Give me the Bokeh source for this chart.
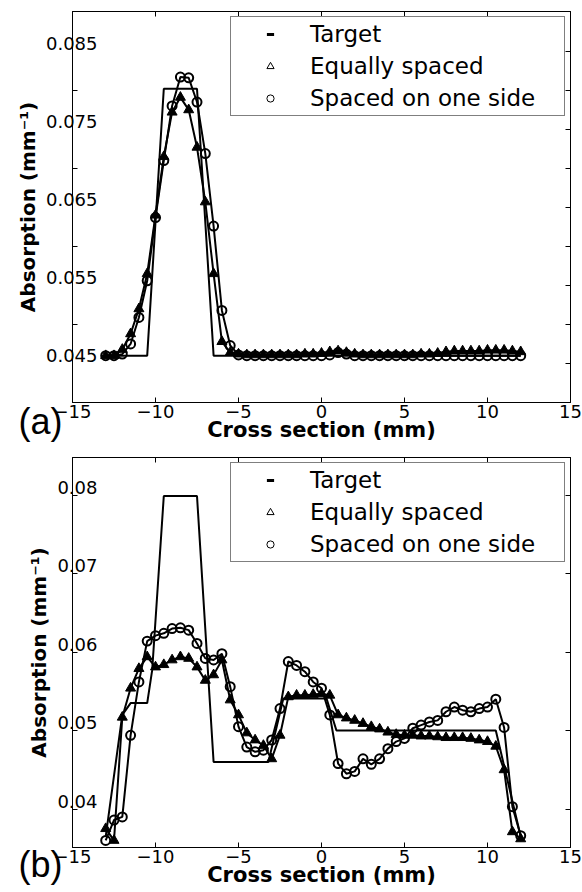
from bokeh.plotting import figure
from bokeh.layouts import column
from bokeh.models import (ColumnDataSource, LinearAxis, FixedTicker, Range1d,
                          Legend, LegendItem, Label)
from bokeh.embed import file_html
from bokeh.resources import INLINE

# sample positions across the cross section (mm)
x_mm = [-13.0, -12.5, -12.0, -11.5, -11.0, -10.5, -10.0, -9.5, -9.0, -8.5,
        -8.0, -7.5, -7.0, -6.5, -6.0, -5.5, -5.0, -4.5, -4.0, -3.5,
        -3.0, -2.5, -2.0, -1.5, -1.0, -0.5, 0.0, 0.5, 1.0, 1.5,
        2.0, 2.5, 3.0, 3.5, 4.0, 4.5, 5.0, 5.5, 6.0, 6.5,
        7.0, 7.5, 8.0, 8.5, 9.0, 9.5, 10.0, 10.5, 11.0, 11.5, 12.0]

# (a) single inclusion
a_target_x = [-13.0, -10.5, -9.5, -7.5, -6.5, 12.0]
a_target_y = [0.045, 0.045, 0.0792, 0.0792, 0.045, 0.045]
a_equal = [0.0450, 0.0450, 0.0458, 0.0478, 0.0510, 0.0555, 0.0630, 0.0705, 0.0762, 0.0781,
           0.0765, 0.0717, 0.0647, 0.0555, 0.0468, 0.0454, 0.0452, 0.0451, 0.0451, 0.0451,
           0.0451, 0.0451, 0.0451, 0.0451, 0.0452, 0.0452, 0.0453, 0.0455, 0.0456, 0.0454,
           0.0452, 0.0451, 0.0451, 0.0451, 0.0451, 0.0451, 0.0451, 0.0451, 0.0452, 0.0452,
           0.0453, 0.0455, 0.0456, 0.0456, 0.0456, 0.0456, 0.0457, 0.0457, 0.0457, 0.0456, 0.0455]
a_oneside = [0.0450, 0.0450, 0.0452, 0.0465, 0.0499, 0.0546, 0.0627, 0.0700, 0.0770, 0.0807,
             0.0806, 0.0775, 0.0709, 0.0616, 0.0508, 0.0463, 0.0451, 0.0450, 0.0450, 0.0450,
             0.0450, 0.0450, 0.0450, 0.0450, 0.0450, 0.0450, 0.0450, 0.0451, 0.0454, 0.0452,
             0.0450, 0.0450, 0.0450, 0.0450, 0.0450, 0.0450, 0.0450, 0.0450, 0.0450, 0.0450,
             0.0450, 0.0450, 0.0450, 0.0450, 0.0450, 0.0450, 0.0450, 0.0450, 0.0450, 0.0450, 0.0450]

# (b) multi-level phantom
b_target_x = [-13.0, -12.0, -11.5, -10.5, -10.2, -9.5, -7.5, -6.5, -3.2, -2.3,
              0.3, 0.9, 10.5, 12.0]
b_target_y = [0.0355, 0.0510, 0.0525, 0.0525, 0.0567, 0.0789, 0.0789, 0.0450, 0.0450, 0.0531,
              0.0531, 0.0490, 0.0490, 0.0355]
b_equal = [0.0365, 0.0350, 0.0507, 0.0544, 0.0569, 0.0584, 0.0571, 0.0574, 0.0580, 0.0584,
           0.0582, 0.0571, 0.0554, 0.0561, 0.0580, 0.0529, 0.0510, 0.0487, 0.0478, 0.0471,
           0.0454, 0.0484, 0.0533, 0.0535, 0.0535, 0.0536, 0.0537, 0.0535, 0.0510, 0.0506,
           0.0503, 0.0499, 0.0495, 0.0492, 0.0488, 0.0485, 0.0484, 0.0484, 0.0483, 0.0483,
           0.0482, 0.0481, 0.0481, 0.0481, 0.0480, 0.0478, 0.0476, 0.0470, 0.0440, 0.0361, 0.0352]
b_oneside = [0.0350, 0.0376, 0.0380, 0.0484, 0.0552, 0.0604, 0.0611, 0.0614, 0.0620, 0.0621,
             0.0618, 0.0601, 0.0582, 0.0580, 0.0588, 0.0546, 0.0495, 0.0469, 0.0463, 0.0465,
             0.0478, 0.0518, 0.0578, 0.0573, 0.0565, 0.0552, 0.0544, 0.0510, 0.0448, 0.0435,
             0.0438, 0.0454, 0.0447, 0.0454, 0.0467, 0.0476, 0.0480, 0.0493, 0.0497, 0.0501,
             0.0503, 0.0514, 0.0520, 0.0516, 0.0514, 0.0518, 0.0520, 0.0530, 0.0494, 0.0393, 0.0356]

# axis ticks
x_ticks = [-15, -10, -5, 0, 5, 10, 15]
a_y_labels = [0.045, 0.055, 0.065, 0.075, 0.085]
a_y_marks = [0.049, 0.059, 0.069, 0.079]
a_right_marks = [0.044, 0.049, 0.054, 0.059, 0.064, 0.069, 0.074, 0.079, 0.084]
b_y_labels = [0.04, 0.05, 0.06, 0.07, 0.08]
b_y_marks = [0.039, 0.049, 0.059, 0.069, 0.079]

TICK_FONT = "DejaVu Sans"


def mirror_axis(ticks):
    # tick marks only, no labels
    ax = LinearAxis(ticker=FixedTicker(ticks=ticks))
    ax.major_label_text_font_size = "0px"
    ax.major_label_text_color = None
    ax.major_label_standoff = 0
    ax.major_tick_in = 5
    ax.major_tick_out = 0
    ax.minor_tick_in = 0
    ax.minor_tick_out = 0
    ax.axis_line_color = "black"
    ax.major_tick_line_color = "black"
    return ax


def panel(tx, ty, eq, one, y_lo, y_hi, y_labels, y_marks, right_marks,
          height, top_border, bottom_border):
    p = figure(width=582, height=height, x_range=Range1d(-15, 15),
               y_range=Range1d(y_lo, y_hi), output_backend="svg",
               toolbar_location=None, min_border_left=72, min_border_right=12,
               min_border_top=top_border, min_border_bottom=bottom_border)
    p.grid.visible = False
    p.outline_line_color = "black"
    p.background_fill_color = "white"
    p.border_fill_color = "white"

    src_t = ColumnDataSource(dict(x=tx, y=ty))
    src_s = ColumnDataSource(dict(x=x_mm, eq=eq, one=one))

    p.line("x", "y", source=src_t, line_color="black", line_width=2)
    p.line("x", "eq", source=src_s, line_color="black", line_width=2)
    p.line("x", "one", source=src_s, line_color="black", line_width=2)
    p.scatter("x", "eq", source=src_s, marker="triangle", size=10,
              fill_color="black", line_color="black", line_width=1)
    p.scatter("x", "one", source=src_s, marker="circle", size=9,
              fill_alpha=0, line_color="black", line_width=2)

    # legend swatches (not drawn in the plot area)
    lt = p.scatter("x", "y", source=src_t, marker="dash", line_color="black",
                   line_width=3, visible=False)
    le = p.scatter("x", "eq", source=src_s, marker="triangle", fill_color="white",
                   line_color="black", line_width=1, visible=False)
    lo = p.scatter("x", "one", source=src_s, marker="circle", fill_color="white",
                   line_color="black", line_width=1, visible=False)
    legend = Legend(items=[LegendItem(label="Target", renderers=[lt]),
                           LegendItem(label="Equally spaced", renderers=[le]),
                           LegendItem(label="Spaced on one side", renderers=[lo])],
                    location="top_right")
    legend.label_text_font = "DejaVu Sans"
    legend.label_text_font_size = "23px"
    legend.label_text_color = "black"
    legend.glyph_width = 70
    legend.glyph_height = 18
    legend.label_standoff = 5
    legend.label_width = 250
    legend.label_height = 26
    legend.padding = 4
    legend.spacing = 6
    legend.margin = 5
    legend.border_line_color = "black"
    legend.border_line_width = 1
    legend.background_fill_alpha = 1
    p.add_layout(legend)

    # bottom axis
    xb = p.xaxis[0]
    xb.ticker = FixedTicker(ticks=x_ticks)
    xb.major_tick_in = 5
    xb.major_tick_out = 0
    xb.minor_tick_in = 0
    xb.minor_tick_out = 0
    xb.major_label_text_font = TICK_FONT
    xb.major_label_text_font_size = "18px"
    xb.major_label_text_color = "black"
    xb.major_label_standoff = 2
    xb.axis_label = "Cross section (mm)"
    xb.axis_label_text_font = "DejaVu Sans"
    xb.axis_label_text_font_style = "bold"
    xb.axis_label_text_font_size = "21px"
    xb.axis_label_text_color = "black"
    xb.axis_label_standoff = -3
    xb.axis_line_color = "black"

    # left axis: labels centred on the axis line, short marks between them
    yl = p.yaxis[0]
    yl.ticker = FixedTicker(ticks=y_labels, minor_ticks=y_marks)
    yl.major_tick_in = 0
    yl.major_tick_out = 0
    yl.minor_tick_in = 5
    yl.minor_tick_out = 0
    yl.major_label_text_align = "center"
    yl.major_label_standoff = -25
    yl.major_label_text_font = TICK_FONT
    yl.major_label_text_font_size = "18px"
    yl.major_label_text_color = "black"
    yl.axis_label = "Absorption (mm\u207b\u00b9)"
    yl.axis_label_text_font = "DejaVu Sans"
    yl.axis_label_text_font_style = "bold"
    yl.axis_label_text_font_size = "20px"
    yl.axis_label_text_color = "black"
    yl.axis_label_standoff = 3
    yl.axis_line_color = "black"

    p.add_layout(mirror_axis(x_ticks), "above")
    p.add_layout(mirror_axis(right_marks), "right")
    return p


def tag_label(text, canvas_y):
    # panel tag in canvas pixels; kept in a side panel so it is not clipped
    return Label(x=18, y=canvas_y, x_units="canvas", y_units="canvas",
                 text=text, text_font="Liberation Sans", text_font_size="36px",
                 text_color="black", text_baseline="middle", text_align="left")


top = panel(a_target_x, a_target_y, a_equal, a_oneside, 0.0390, 0.0891,
            a_y_labels, a_y_marks, a_right_marks, 485, 11, 83)
top.add_layout(tag_label("(a)", 421), "below")

bottom = panel(b_target_x, b_target_y, b_equal, b_oneside, 0.0341, 0.0838,
               b_y_labels, b_y_marks, b_y_marks, 490, 55, 45)
bottom.add_layout(tag_label("(b)", 462), "above")
# the lower panel starts right under the upper frame; its margins stay see-through
bottom.border_fill_alpha = 0
bottom.margin = (-83, 0, 0, 0)

layout = column(top, bottom, spacing=0)
open("out.html", "w").write(file_html(layout, INLINE))
